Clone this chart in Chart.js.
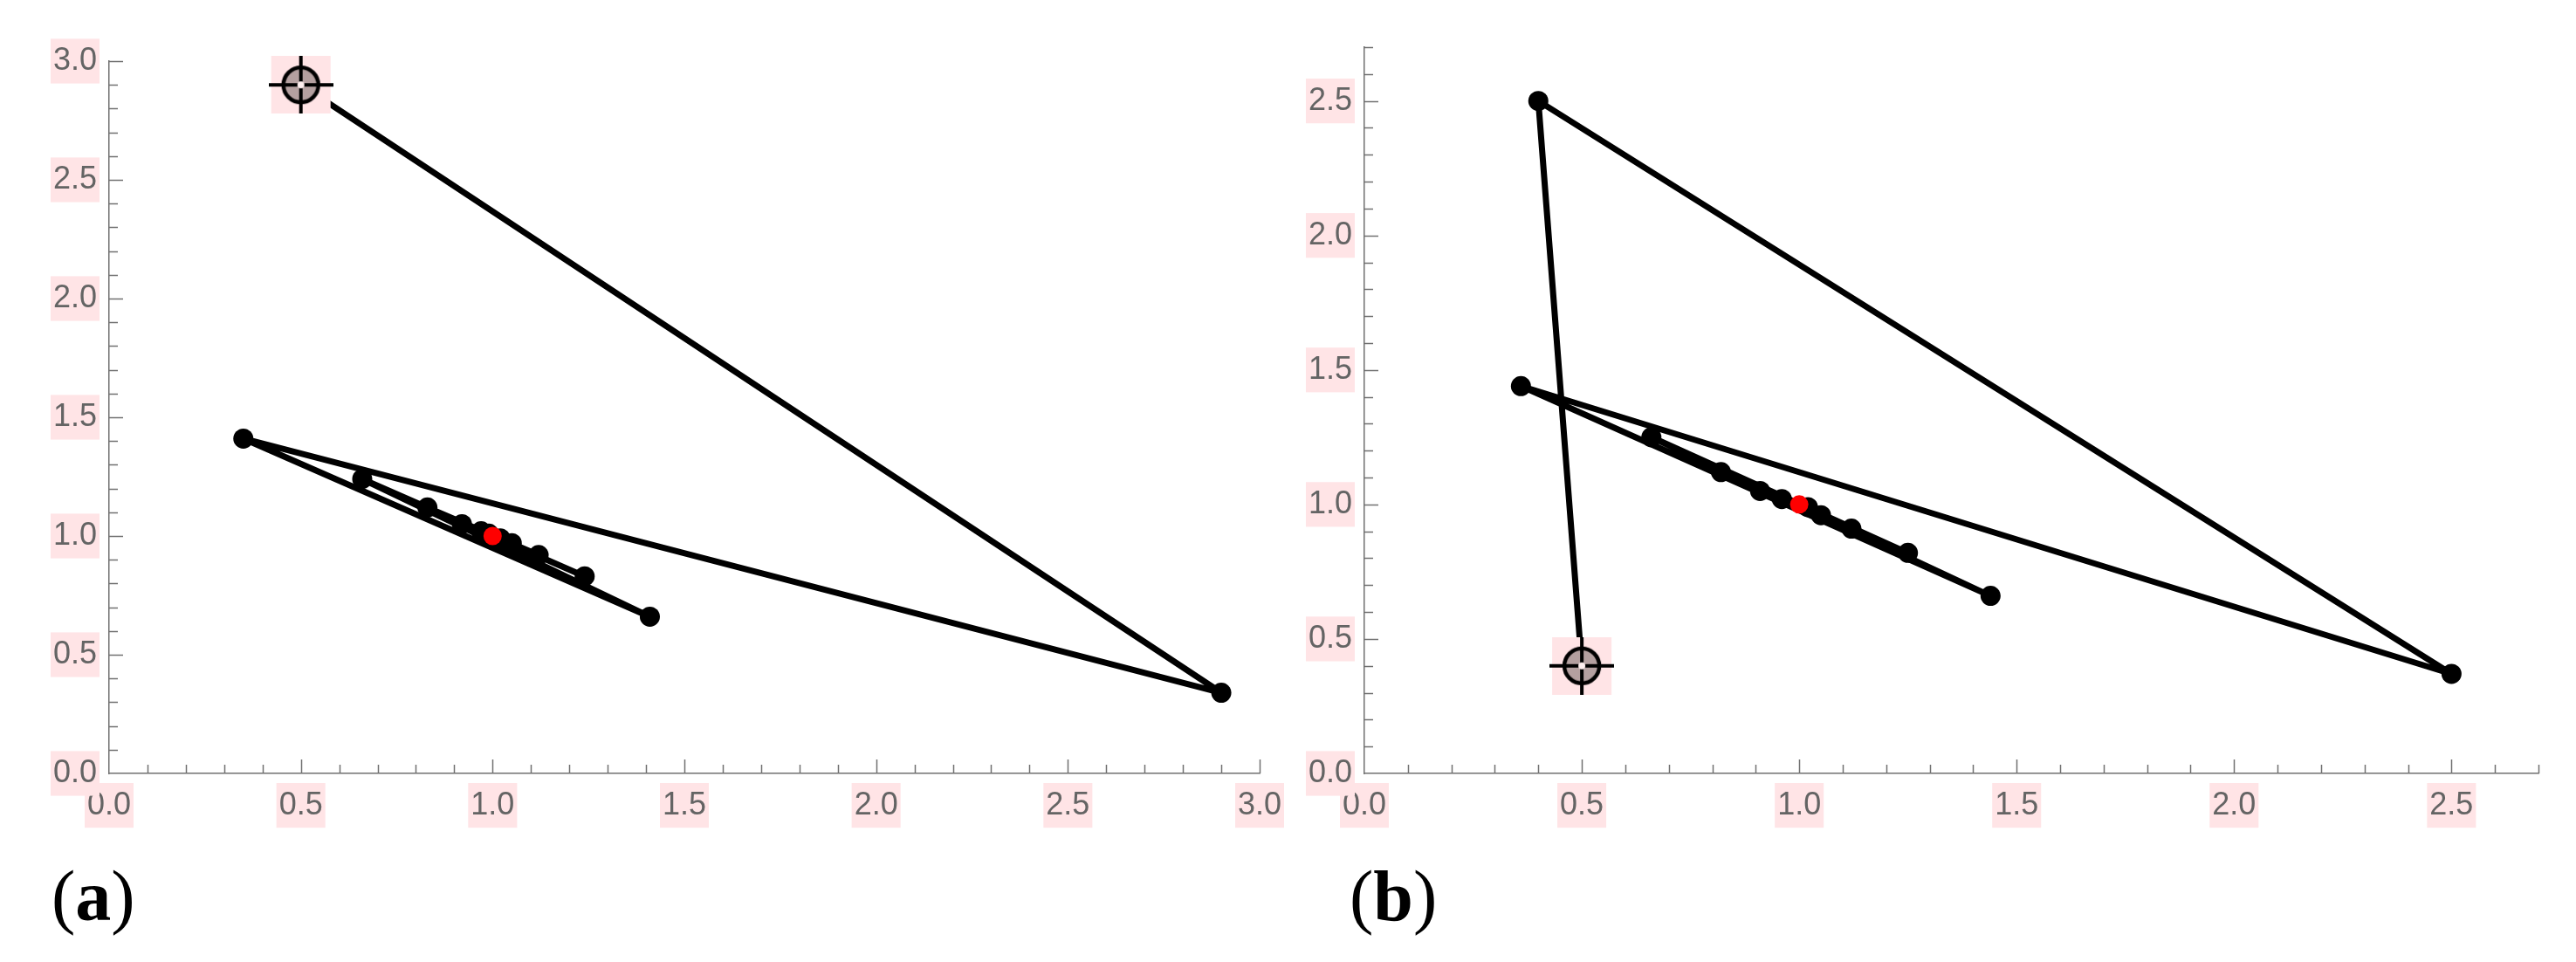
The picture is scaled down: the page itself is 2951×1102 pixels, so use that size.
<!DOCTYPE html>
<html>
<head>
<meta charset="utf-8">
<script src="https://cdn.jsdelivr.net/npm/chart.js@4/dist/chart.umd.min.js"></script>
<style>
  html, body { margin:0; padding:0; background:#ffffff; }
  body { width:2951px; height:1102px; position:relative; overflow:hidden; }
  canvas { position:absolute; top:0; }
  .cap { position:absolute; top:986px; font-family:"Liberation Serif", "DejaVu Serif", serif; font-size:82px; line-height:1; color:#000; white-space:nowrap; }
  .cap b { font-weight:bold; }
</style>
</head>
<body>
<canvas id="ca" width="1490" height="1102" style="left:0px"></canvas>
<canvas id="cb" width="1461" height="1102" style="left:1490px"></canvas>
<div class="cap" style="left:59px">(<b>a</b>)</div>
<div class="cap" style="left:1546px">(<b>b</b>)</div>
<script>
// ---------- data ----------
// panel (a): iteration path
const pathAX = [0.50, 2.90, 0.35, 1.41, 0.66, 1.24, 0.83, 1.12, 0.92, 1.05, 0.97, 1.02, 0.99];
const pathAY = [2.90, 0.34, 1.41, 0.66, 1.24, 0.83, 1.12, 0.92, 1.05, 0.97, 1.02, 0.99, 1.01];
const fixedA = [1.0, 1.0];
// panel (b): iteration path
const pathBX = [0.50, 0.40, 2.50, 0.36, 1.44, 0.66, 1.25, 0.82, 1.12, 0.91, 1.05, 0.96, 1.02];
const pathBY = [0.40, 2.50, 0.37, 1.44, 0.66, 1.25, 0.82, 1.12, 0.91, 1.05, 0.96, 1.02, 0.99];
const fixedB = [1.0, 1.0];
// axes and tick labels
const axisMaxA = 3.0;
const axisMaxB = 2.7;
const ticksA = [0.0, 0.5, 1.0, 1.5, 2.0, 2.5, 3.0];
const ticksB = [0.0, 0.5, 1.0, 1.5, 2.0, 2.5];

// ---------- styling ----------
const AXIS_GRAY = 'rgb(112,112,112)';
const LABEL_GRAY = 'rgb(100,100,100)';
const PINK = 'rgb(255,228,230)';

function makeStartMarker() {
  const c = document.createElement('canvas');
  c.width = 74; c.height = 66;
  const g = c.getContext('2d');
  g.fillStyle = PINK;
  g.fillRect(3, 0, 68, 66);
  const cx = 37, cy = 33;
  g.beginPath();
  g.arc(cx, cy, 20, 0, Math.PI * 2);
  g.fillStyle = 'rgb(180,160,160)';
  g.fill();
  g.lineWidth = 4.5;
  g.strokeStyle = '#000';
  g.stroke();
  g.lineWidth = 4;
  g.beginPath();
  g.moveTo(0, cy); g.lineTo(74, cy);
  g.moveTo(cx, 0); g.lineTo(cx, 66);
  g.stroke();
  // light centre hole over the cross
  g.beginPath();
  g.arc(cx, cy, 4, 0, Math.PI * 2);
  g.fillStyle = 'rgb(255,240,240)';
  g.fill();
  return c;
}
const startMarker = makeStartMarker();

// inward tick marks (major every 0.5, minor every 0.1) drawn via the chart's scales
const tickPlugin = {
  id: 'inwardTicks',
  beforeDatasetsDraw(chart) {
    const ctx = chart.ctx;
    const xs = chart.scales.x, ys = chart.scales.y;
    ctx.save();
    ctx.strokeStyle = AXIS_GRAY;
    ctx.lineWidth = 1.5;
    const yBase = ys.getPixelForValue(0);
    const xBase = xs.getPixelForValue(0);
    const nx = Math.round(xs.max * 10);
    for (let i = 1; i <= nx; i++) {
      const px = Math.round(xs.getPixelForValue(i / 10)) + 0.5;
      const len = (i % 5 === 0) ? 16 : 10;
      ctx.beginPath(); ctx.moveTo(px, yBase); ctx.lineTo(px, yBase - len); ctx.stroke();
    }
    const ny = Math.round(ys.max * 10);
    for (let i = 1; i <= ny; i++) {
      const py = Math.round(ys.getPixelForValue(i / 10)) + 0.5;
      const len = (i % 5 === 0) ? 16 : 10;
      ctx.beginPath(); ctx.moveTo(xBase, py); ctx.lineTo(xBase + len, py); ctx.stroke();
    }
    ctx.restore();
  }
};

function toPts(xs, ys) { return xs.map((x, i) => ({ x: x, y: ys[i] })); }

function makeChart(id, px, py, fixed, axisMax, tickVals, layout) {
  const tickFont = { family: '"Liberation Sans", Arial, sans-serif', size: 36, lineHeight: 1.2 };
  const commonTicks = {
    font: tickFont,
    color: LABEL_GRAY,
    autoSkip: false,
    maxRotation: 0,
    minRotation: 0,
    showLabelBackdrop: true,
    backdropColor: PINK,
    backdropPadding: { top: 4, bottom: 4, left: 3, right: 3 },
    callback: v => Number(v).toFixed(1)
  };
  return new Chart(document.getElementById(id), {
    type: 'scatter',
    data: {
      datasets: [
        {
          label: 'start',
          data: [{ x: px[0], y: py[0] }],
          pointStyle: startMarker,
          pointRadius: 10,
          clip: false,
          order: 1
        },
        {
          label: 'fixed',
          data: [{ x: fixed[0], y: fixed[1] }],
          pointRadius: 10.5,
          pointBackgroundColor: 'rgb(255,0,0)',
          pointBorderWidth: 0,
          clip: false,
          order: 0
        },
        {
          label: 'path',
          data: toPts(px, py),
          showLine: true,
          borderColor: '#000',
          borderWidth: 7,
          borderJoinStyle: 'round',
          borderCapStyle: 'round',
          pointRadius: px.map((_, i) => i === 0 ? 0 : 11.5),
          pointBackgroundColor: '#000',
          pointBorderWidth: 0,
          clip: false,
          order: 2
        }
      ]
    },
    options: {
      responsive: false,
      animation: false,
      devicePixelRatio: 1,
      events: [],
      layout: { padding: { left: 0, top: layout.top, right: layout.right, bottom: 0 } },
      plugins: { legend: { display: false }, tooltip: { enabled: false }, title: { display: false } },
      scales: {
        x: {
          type: 'linear', min: 0, max: axisMax,
          grid: { drawOnChartArea: false, drawTicks: false },
          border: { display: true, color: AXIS_GRAY, width: 1.5 },
          ticks: Object.assign({}, commonTicks, { padding: 15 }),
          afterBuildTicks: s => { s.ticks = tickVals.map(v => ({ value: v })); },
          afterFit: s => { s.height = 216; s.paddingLeft = 0; s.paddingRight = 0; s.paddingTop = 0; s.paddingBottom = 0; }
        },
        y: {
          type: 'linear', min: 0, max: axisMax,
          grid: { drawOnChartArea: false, drawTicks: false },
          border: { display: true, color: AXIS_GRAY, width: 1.5 },
          ticks: Object.assign({}, commonTicks, { padding: 14 }),
          afterBuildTicks: s => { s.ticks = tickVals.map(v => ({ value: v })); },
          afterFit: s => { s.width = layout.yWidth; s.paddingLeft = 0; s.paddingRight = 0; s.paddingTop = 0; s.paddingBottom = 0; }
        }
      }
    },
    plugins: [tickPlugin]
  });
}

makeChart('ca', pathAX, pathAY, fixedA, axisMaxA, ticksA, { top: 70, right: 47, yWidth: 125 });
makeChart('cb', pathBX, pathBY, fixedB, axisMaxB, ticksB, { top: 54, right: 43, yWidth: 73 });
</script>
</body>
</html>
